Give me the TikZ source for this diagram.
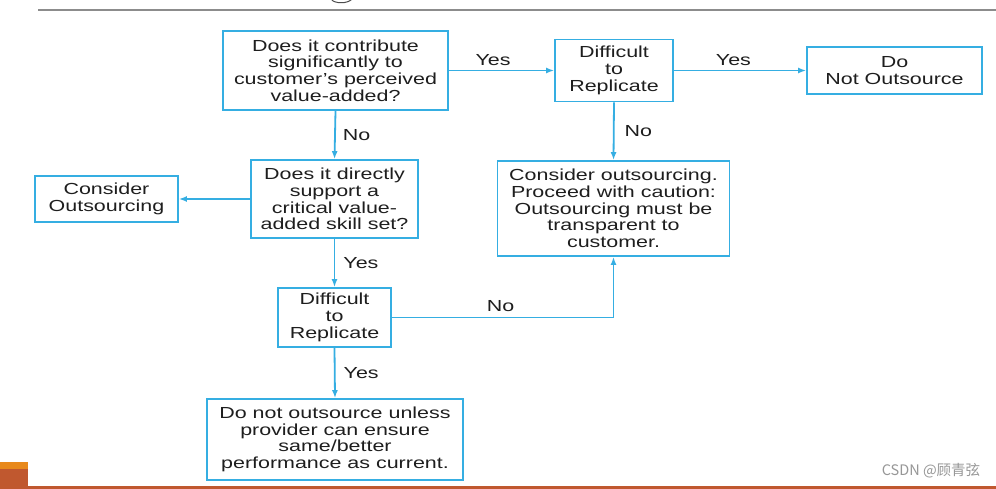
\documentclass[tikz,border=0pt]{standalone}
\usepackage{fontspec}
\setmainfont[FakeStretch=1.34]{Liberation Sans}
\newfontfamily\cjk{Noto Sans CJK SC}
\usetikzlibrary{arrows.meta}
\definecolor{fblue}{HTML}{35AEE2}
\definecolor{ftext}{HTML}{1E1E1E}
\definecolor{slidebrown}{HTML}{C0582F}
\definecolor{slideorange}{HTML}{E8891B}
\definecolor{slidegray}{HTML}{8C8C8C}
\begin{document}
\begin{tikzpicture}[x=1pt,y=-1pt,
  box/.style={draw=fblue, line width=1.8pt, align=center, inner sep=0pt, text=ftext,
              font=\fontsize{16}{16.7}\selectfont},
  conn/.style={draw=fblue, line width=1.8pt, -{Latex[length=8pt,width=6pt]}},
  lbl/.style={text=ftext, font=\fontsize{16}{16.7}\selectfont, inner sep=0pt}]
\useasboundingbox (0,0) rectangle (996,489);
\fill[white] (0,0) rectangle (996,489);

% slide decorations
\draw[slidegray, line width=1.2pt] (38,10) -- (996,10);
\draw[black!70, line width=1pt] (331,-1) .. controls (334,4) and (348,4) .. (352,-1);
\fill[slideorange] (0,462) rectangle (28,469);
\fill[slidebrown] (0,469) rectangle (28,489);
\fill[slidebrown] (0,486) rectangle (996,489);
\node[text=slidegray!90, font=\cjk\fontsize{14.5}{15}\selectfont, inner sep=0pt] (wm) at (931,471) {CSDN @顾青弦};

% boxes
\node[box, minimum width=225pt, minimum height=79pt] (A) at (335.5,70.5)
  {Does it contribute\\significantly to\\customer's perceived\\value-added?};
\node[box, minimum width=118pt, minimum height=62pt] (B) at (614,70.5)
  {Difficult\\to\\Replicate};
\node[box, minimum width=175pt, minimum height=47pt] (C) at (894.5,70.5)
  {Do\\Not Outsource};
\node[box, minimum width=167pt, minimum height=78pt] (D) at (334.5,199)
  {Does it directly\\support a\\critical value-\\added skill set?};
\node[box, minimum width=143pt, minimum height=46pt] (E) at (106.5,199)
  {Consider\\Outsourcing};
\node[box, minimum width=232pt, minimum height=95pt] (F) at (613.5,208.5)
  {Consider outsourcing.\\Proceed with caution:\\Outsourcing must be\\transparent to\\customer.};
\node[box, minimum width=113pt, minimum height=59pt] (G) at (334.5,317.5)
  {Difficult\\to\\Replicate};
\node[box, minimum width=256pt, minimum height=81pt] (H) at (335,439.5)
  {Do not outsource unless\\provider can ensure\\same/better\\performance as current.};

% connectors
\draw[conn] (A.east) -- node[lbl, above=4pt, pos=0.42] {Yes} (B.west);
\draw[conn] (B.east) -- node[lbl, above=4pt, pos=0.45] {Yes} (C.west);
\draw[conn] (A.south) -- node[lbl, right=7pt, midway] {No} (D.north);
\draw[conn] (B.south) -- node[lbl, right=10pt, midway] {No} (F.north);
\draw[conn] (D.west) -- (E.east);
\draw[conn] (D.south) -- node[lbl, right=8pt, midway] {Yes} (G.north);
\draw[conn] (G.east) -- node[lbl, above=5pt, pos=0.49] {No} (G.east -| F.south) -- (F.south);
\draw[conn] (G.south) -- node[lbl, right=8pt, midway] {Yes} (H.north);
\end{tikzpicture}
\end{document}
